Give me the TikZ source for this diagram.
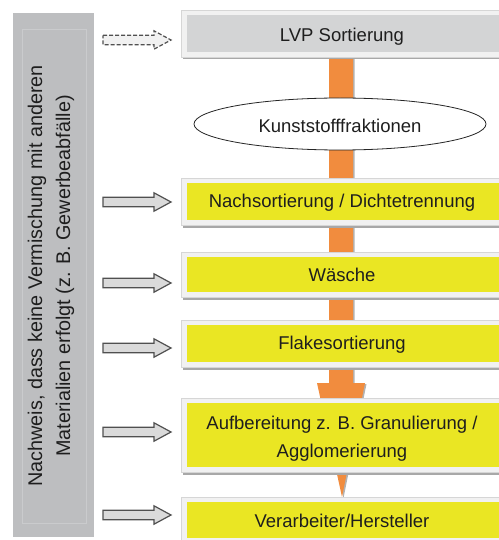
\documentclass[tikz,border=0pt]{standalone}
\usepackage{fontspec}
\setmainfont{Liberation Sans}
\usetikzlibrary{shapes.geometric}
\definecolor{boxyellow}{RGB}{234,230,35}
\definecolor{lvpgray}{RGB}{211,212,213}
\definecolor{panelgray}{RGB}{189,190,192}
\definecolor{panelline}{RGB}{202,203,205}
\definecolor{flow}{RGB}{241,140,62}
\definecolor{framefill}{RGB}{241,241,241}
\definecolor{frameline}{RGB}{214,214,214}
\definecolor{shadowgray}{RGB}{168,168,168}
\definecolor{txtcol}{RGB}{30,30,30}
\definecolor{arrline}{RGB}{80,80,80}
\definecolor{arrfill}{RGB}{218,218,218}
\tikzset{
  boxshadow/.style={fill=shadowgray},
  boxframe/.style={fill=framefill,draw=frameline,line width=0.6pt},
  boxinner/.style={rectangle,inner sep=0pt,minimum width=323pt,draw=none},
  boxtext/.style={anchor=base,inner sep=0pt,text=txtcol,font=\fontsize{18.5}{22}\selectfont},
  paneltext/.style={anchor=base,rotate=90,inner sep=0pt,text=txtcol,font=\fontsize{19.8}{24}\selectfont},
  blockarr/.style={fill=arrfill,draw=arrline,line width=1.2pt,line join=miter},
  dashedarr/.style={fill=framefill,draw=arrline,line width=1.2pt,dash pattern=on 4pt off 2pt},
}
% name, center y, inner height, fill
\newcommand{\pbox}[4]{%
  \fill[boxshadow] (182.5,#2-#3/2-5+2.5) rectangle (511.5,#2+#3/2+5+2.5);
  \filldraw[boxframe] (181,#2-#3/2-5) rectangle (510,#2+#3/2+5);
  \node[boxinner,fill=#4,minimum height=#3pt] (#1) at (348.5,#2) {};
}
% style, center y
\newcommand{\harrow}[2]{%
  \draw[#1] (103,#2-4.7) -- (154,#2-4.7) -- (154,#2-9.2) -- (171,#2)
    -- (154,#2+9.2) -- (154,#2+4.7) -- (103,#2+4.7) -- cycle;
}
\begin{document}
\begin{tikzpicture}[x=1pt,y=-1pt]
\useasboundingbox (0,0) rectangle (498,540);
% left panel
\fill[panelgray] (13,13) rectangle (94,537);
\draw[panelline,line width=0.8pt] (22,29) rectangle (86,523);
\node[paneltext] (p1) at (42,276) {Nachweis, dass keine Vermischung mit anderen};
\node[paneltext] (p2) at (70,276) {Materialien erfolgt (z. B. Gewerbeabfälle)};
% orange flow arrow
\fill[black!30] (330.5,58) -- (354.5,58) -- (354.5,384) -- (366.5,384) -- (343.5,498)
  -- (318.5,384) -- (330.5,384) -- cycle;
\fill[flow] (329,58) -- (353,58) -- (353,383) -- (365,383) -- (342,497)
  -- (317,383) -- (329,383) -- cycle;
% process boxes
\pbox{lvp}{33.5}{37}{lvpgray}
\pbox{nach}{201.5}{37}{boxyellow}
\pbox{wasch}{274.5}{35}{boxyellow}
\pbox{flake}{343.5}{37}{boxyellow}
\pbox{aufb}{435}{64}{boxyellow}
\pbox{verarb}{520}{36}{boxyellow}
% ellipse
\node[ellipse,draw=black!85,line width=0.8pt,fill=white,minimum width=292pt,minimum height=52pt,inner sep=0pt] (kf) at (340,124) {};
% texts
\node[boxtext] (t0) at (342,41.7) {LVP Sortierung};
\node[boxtext] (tk) at (340,132.7) {Kunststofffraktionen};
\node[boxtext] (t1) at (342,207.3) {Nachsortierung / Dichtetrennung};
\node[boxtext] (t2) at (342,281.7) {Wäsche};
\node[boxtext] (t3) at (342,349) {Flakesortierung};
\node[boxtext] (t4a) at (342,429.3) {Aufbereitung z. B. Granulierung /};
\node[boxtext] (t4b) at (342,457.5) {Agglomerierung};
\node[boxtext] (t5) at (342,527.3) {Verarbeiter/Hersteller};
% left block arrows
\harrow{dashedarr}{40}
\harrow{blockarr}{202}
\harrow{blockarr}{283}
\harrow{blockarr}{348}
\harrow{blockarr}{432}
\harrow{blockarr}{515}
\end{tikzpicture}
\end{document}
